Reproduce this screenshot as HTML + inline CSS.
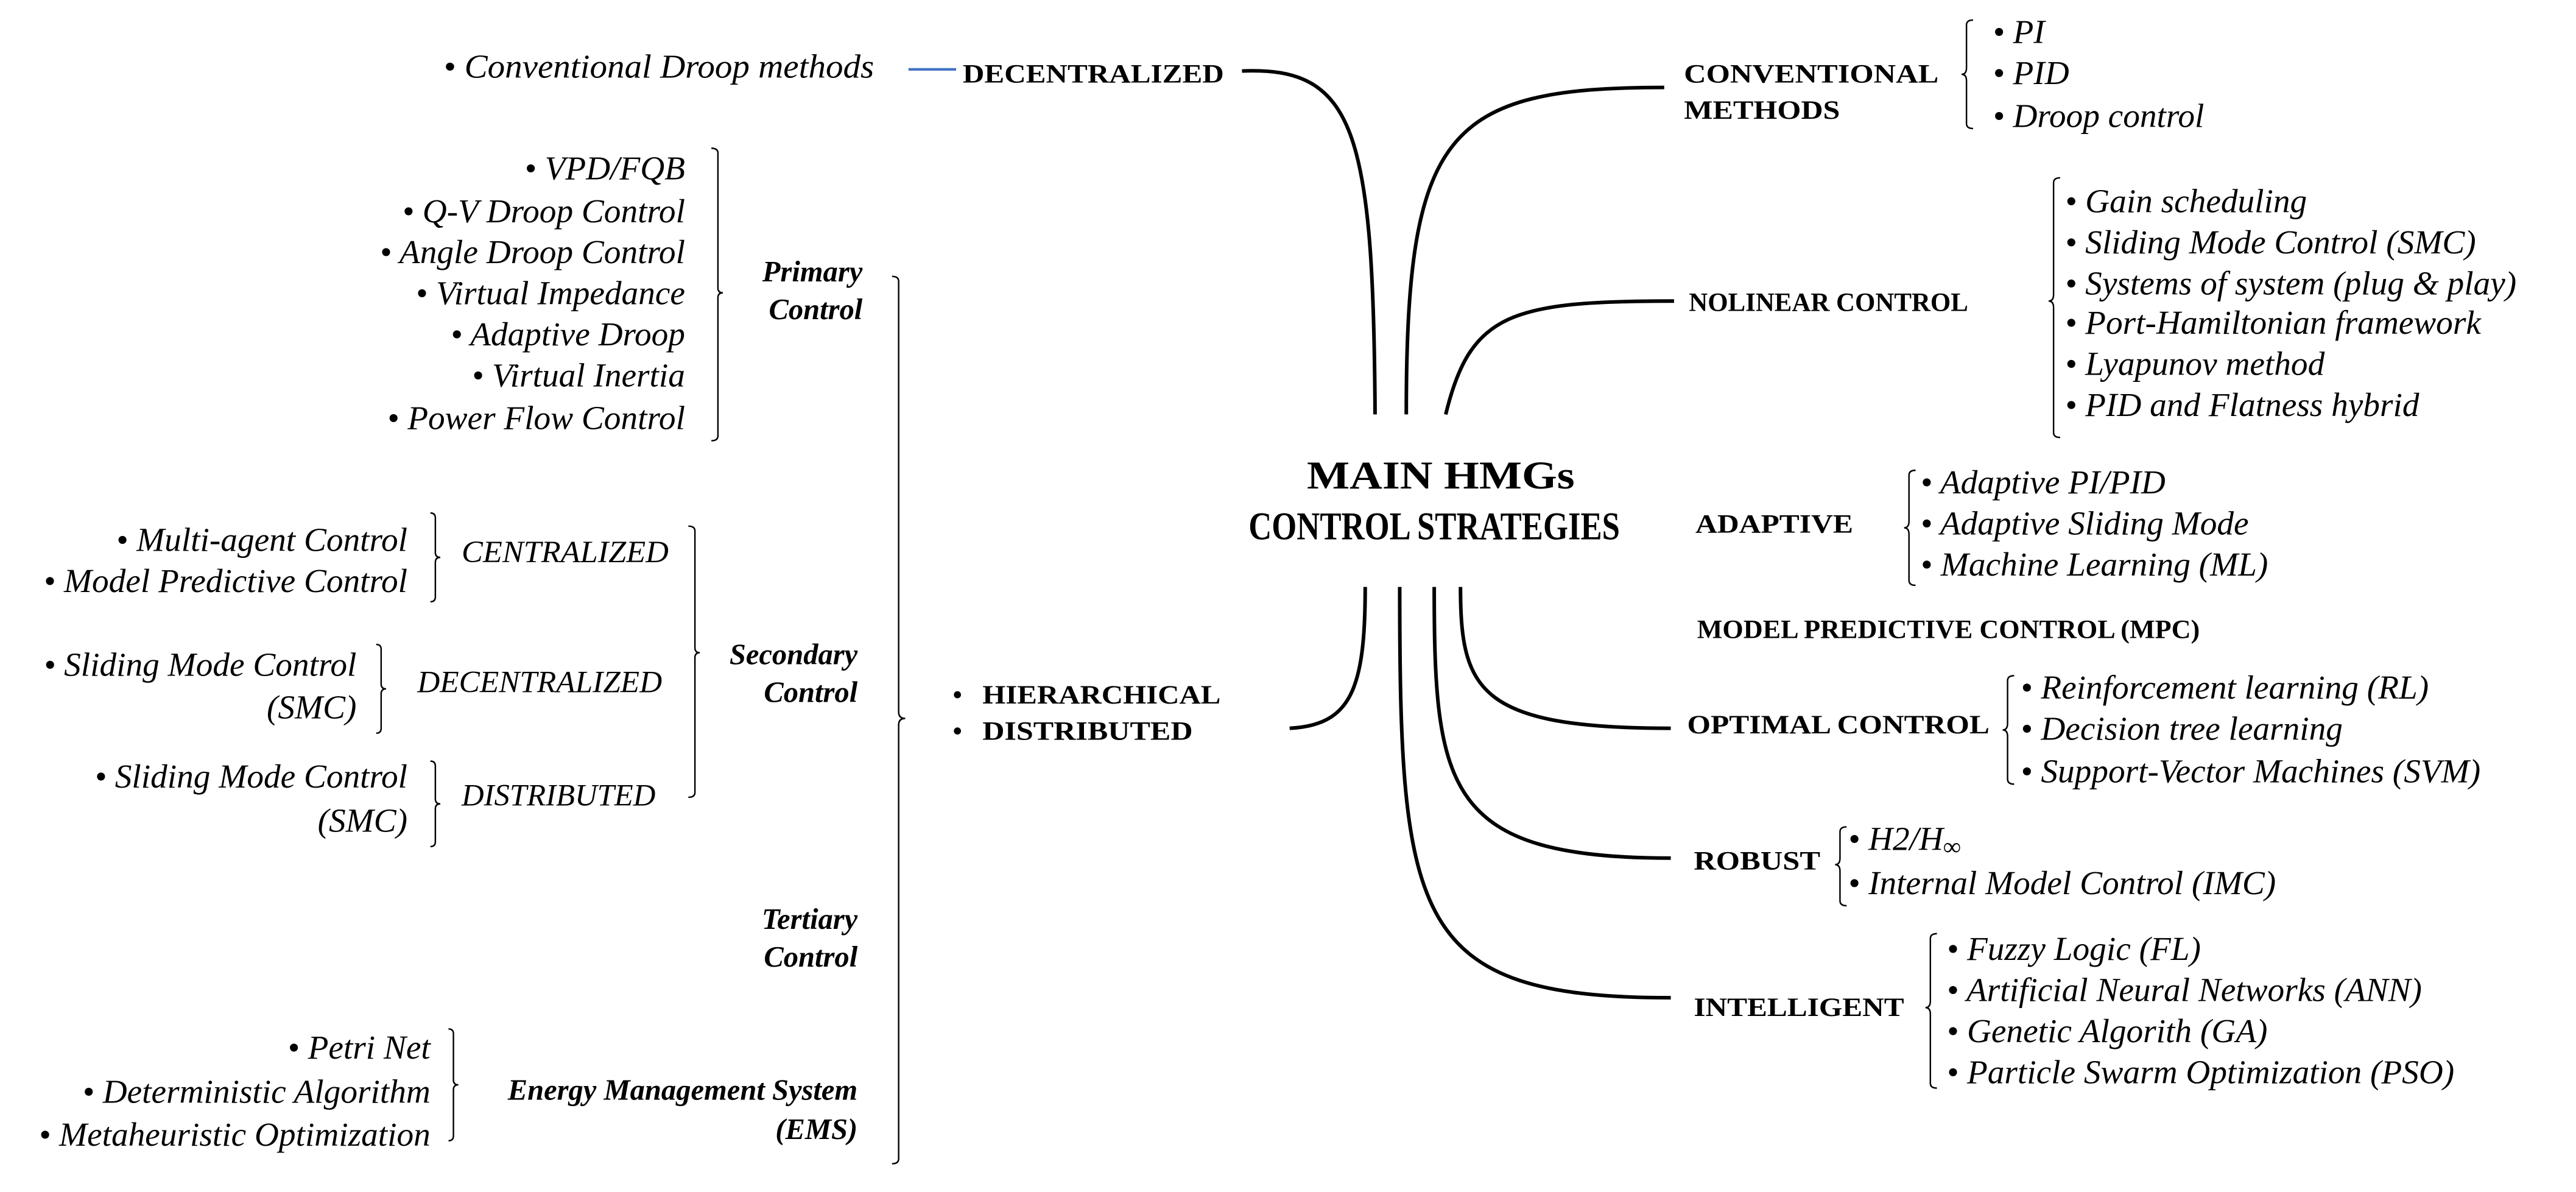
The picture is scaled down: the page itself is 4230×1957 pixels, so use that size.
<!DOCTYPE html>
<html><head><meta charset="utf-8"><style>
html,body{margin:0;padding:0;background:#fff;}
svg{display:block}
text{font-family:"Liberation Serif",serif;fill:#000}
.i{font-style:italic;font-size:20.5px}
.b{font-weight:bold;font-size:16px}
.bi{font-weight:bold;font-style:italic;font-size:18px}
.r{text-anchor:end}
.l{fill:none;stroke:#000;stroke-width:2.2}
.k{fill:none;stroke:#000;stroke-width:0.9}
</style></head><body>
<svg width="4230" height="1957" viewBox="0 0 1568 725" xmlns="http://www.w3.org/2000/svg">
<!-- connectors -->
<path class="l" d="M756,43 C825,40 836,80 837,252"/>
<path class="l" d="M856,252 C856,80 880,53 1013,53"/>
<path class="l" d="M880,252 C895,190 920,183 1019,183"/>
<path class="l" d="M785,443 C822,441 831,420 831,357"/>
<path class="l" d="M852,357 C852,560 860,607 1017,607"/>
<path class="l" d="M873,357 C873,480 880,522 1017,522"/>
<path class="l" d="M889,357 C889,420 900,443 1017,443"/>
<line x1="553" y1="42" x2="582" y2="42" stroke="#4472c4" stroke-width="1.6"/>

<!-- center title -->
<text class="b" x="877" y="297" text-anchor="middle" style="font-size:24px" textLength="163" lengthAdjust="spacingAndGlyphs">MAIN HMGs</text>
<text class="b" x="873" y="328" text-anchor="middle" style="font-size:24px" textLength="226" lengthAdjust="spacingAndGlyphs">CONTROL STRATEGIES</text>

<!-- top left -->
<text class="i" x="270" y="47" textLength="262" lengthAdjust="spacingAndGlyphs">•  Conventional Droop methods</text>
<text class="b" x="586" y="50" textLength="159" lengthAdjust="spacingAndGlyphs">DECENTRALIZED</text>

<!-- right side -->
<text class="b" x="1025" y="50" textLength="155" lengthAdjust="spacingAndGlyphs">CONVENTIONAL</text>
<text class="b" x="1025" y="72" textLength="95" lengthAdjust="spacingAndGlyphs">METHODS</text>
<path class="k" d="M1201,12 q-4,0 -4,3 v26 q0,4 -3,4 q3,0 3,4 v26 q0,3 4,3"/>
<text class="i" x="1213" y="26">•  PI</text>
<text class="i" x="1213" y="51">•  PID</text>
<text class="i" x="1213" y="77">•  Droop control</text>

<text class="b" x="1028" y="189" textLength="170" lengthAdjust="spacingAndGlyphs">NOLINEAR CONTROL</text>
<path class="k" d="M1254,108 q-4,0 -4,3 v68 q0,4 -3,4 q3,0 3,4 v76 q0,3 4,3"/>
<text class="i" x="1257" y="129">•  Gain scheduling</text>
<text class="i" x="1257" y="154">•  Sliding Mode Control (SMC)</text>
<text class="i" x="1257" y="179">•  Systems of system (plug &amp; play)</text>
<text class="i" x="1257" y="203">•  Port-Hamiltonian framework</text>
<text class="i" x="1257" y="228">•  Lyapunov method</text>
<text class="i" x="1257" y="253">•  PID and Flatness hybrid</text>

<text class="b" x="1032" y="324" textLength="96" lengthAdjust="spacingAndGlyphs">ADAPTIVE</text>
<path class="k" d="M1166,286 q-4,0 -4,3 v28 q0,4 -3,4 q3,0 3,4 v28 q0,3 4,3"/>
<text class="i" x="1169" y="300">•  Adaptive PI/PID</text>
<text class="i" x="1169" y="325">•  Adaptive Sliding Mode</text>
<text class="i" x="1169" y="350">•  Machine Learning (ML)</text>

<text class="b" x="1033" y="388" textLength="306" lengthAdjust="spacingAndGlyphs">MODEL PREDICTIVE CONTROL (MPC)</text>

<text class="b" x="1027" y="446" textLength="184" lengthAdjust="spacingAndGlyphs">OPTIMAL CONTROL</text>
<path class="k" d="M1226,411 q-4,0 -4,3 v26 q0,4 -3,4 q3,0 3,4 v26 q0,3 4,3"/>
<text class="i" x="1230" y="425">•  Reinforcement learning (RL)</text>
<text class="i" x="1230" y="450">•  Decision tree learning</text>
<text class="i" x="1230" y="476">•  Support-Vector Machines (SVM)</text>

<text class="b" x="1031" y="529" textLength="77" lengthAdjust="spacingAndGlyphs">ROBUST</text>
<path class="k" d="M1124,503 q-4,0 -4,3 v16 q0,4 -3,4 q3,0 3,4 v18 q0,3 4,3"/>
<text class="i" x="1125" y="517">•  H2/H<tspan style="font-size:15px" dy="3">∞</tspan></text>
<text class="i" x="1125" y="544">•  Internal Model Control (IMC)</text>

<text class="b" x="1031" y="618" textLength="128" lengthAdjust="spacingAndGlyphs">INTELLIGENT</text>
<path class="k" d="M1179,568 q-4,0 -4,3 v38 q0,4 -3,4 q3,0 3,4 v42 q0,3 4,3"/>
<text class="i" x="1185" y="584">•  Fuzzy Logic (FL)</text>
<text class="i" x="1185" y="609">•  Artificial Neural Networks (ANN)</text>
<text class="i" x="1185" y="634">•  Genetic Algorith (GA)</text>
<text class="i" x="1185" y="659">•  Particle Swarm Optimization (PSO)</text>

<!-- left: primary -->
<text class="i r" x="417" y="109">•  VPD/FQB</text>
<text class="i r" x="417" y="135">•  Q-V Droop Control</text>
<text class="i r" x="417" y="160">•  Angle Droop Control</text>
<text class="i r" x="417" y="185">•  Virtual Impedance</text>
<text class="i r" x="417" y="210">•  Adaptive Droop</text>
<text class="i r" x="417" y="235">•  Virtual Inertia</text>
<text class="i r" x="417" y="261">•  Power Flow Control</text>
<path class="k" d="M433,90 q4,0 4,3 v82 q0,3 3,3 q-3,0 -3,3 v84 q0,3 -4,3"/>
<text class="bi r" x="525" y="171">Primary</text>
<text class="bi r" x="525" y="194">Control</text>

<!-- big bracket -->
<path class="k" d="M543,168 q4,0 4,3 v262 q0,4 4,4 q-4,0 -4,4 v264 q0,3 -4,3"/>
<text class="b" x="580" y="428"><tspan>•</tspan><tspan x="598" textLength="145" lengthAdjust="spacingAndGlyphs">HIERARCHICAL</tspan></text>
<text class="b" x="580" y="450"><tspan>•</tspan><tspan x="598" textLength="128" lengthAdjust="spacingAndGlyphs">DISTRIBUTED</tspan></text>

<!-- secondary -->
<path class="k" d="M419,320 q4,0 4,3 v71 q0,3 3,3 q-3,0 -3,3 v82 q0,3 -4,3"/>
<text class="bi r" x="522" y="404">Secondary</text>
<text class="bi r" x="522" y="427">Control</text>

<text class="i r" x="248" y="335">•  Multi-agent Control</text>
<text class="i r" x="248" y="360">•  Model Predictive Control</text>
<path class="k" d="M262,312 q3,0 3,3 v21 q0,3 3,3 q-3,0 -3,3 v21 q0,3 -3,3"/>
<text class="i" x="281" y="342" style="font-size:19px" textLength="126" lengthAdjust="spacingAndGlyphs">CENTRALIZED</text>

<text class="i r" x="217" y="411">•  Sliding Mode Control</text>
<text class="i r" x="217" y="437">(SMC)</text>
<path class="k" d="M229,392 q3,0 3,3 v21 q0,3 3,3 q-3,0 -3,3 v21 q0,3 -3,3"/>
<text class="i" x="254" y="421" style="font-size:19px" textLength="149" lengthAdjust="spacingAndGlyphs">DECENTRALIZED</text>

<text class="i r" x="248" y="479">•  Sliding Mode Control</text>
<text class="i r" x="248" y="506">(SMC)</text>
<path class="k" d="M262,463 q3,0 3,3 v20 q0,3 3,3 q-3,0 -3,3 v20 q0,3 -3,3"/>
<text class="i" x="281" y="490" style="font-size:19px" textLength="118" lengthAdjust="spacingAndGlyphs">DISTRIBUTED</text>

<!-- tertiary -->
<text class="bi r" x="522" y="565">Tertiary</text>
<text class="bi r" x="522" y="588">Control</text>

<text class="i r" x="262" y="644">•  Petri Net</text>
<text class="i r" x="262" y="671">•  Deterministic Algorithm</text>
<text class="i r" x="262" y="697">•  Metaheuristic Optimization</text>
<path class="k" d="M273,626 q3,0 3,3 v28 q0,3 3,3 q-3,0 -3,3 v28 q0,3 -3,3"/>
<text class="bi r" x="522" y="669">Energy Management System</text>
<text class="bi r" x="522" y="693">(EMS)</text>
</svg>
</body></html>
